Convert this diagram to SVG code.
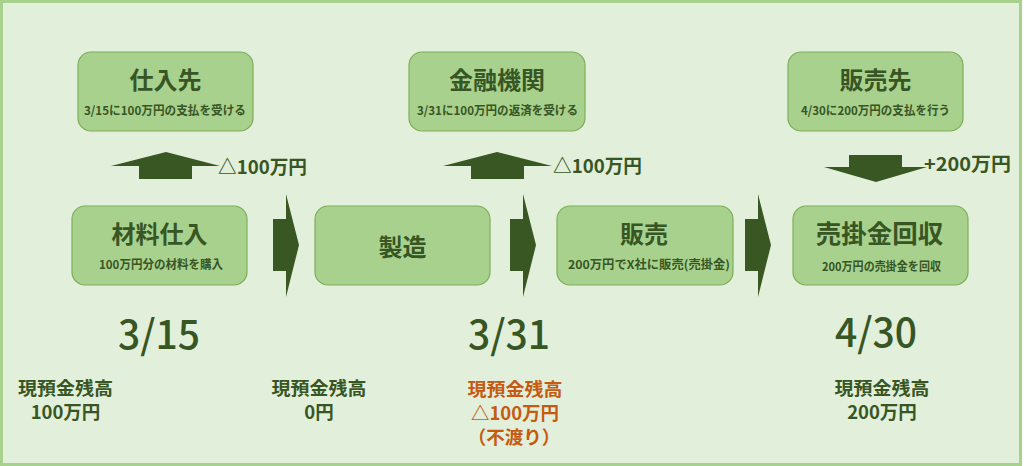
<svg xmlns="http://www.w3.org/2000/svg" width="1024" height="466" viewBox="0 0 1024 466">
<defs>
<style>
.t{font-family:"Noto Sans CJK JP","Noto Sans",sans-serif;font-weight:bold;fill:#375623;text-anchor:middle}
.s{text-anchor:start}
.box{fill:#a9d18e;stroke:#7dae59;stroke-width:1.2}
.title{font-size:24px}
.sub{font-size:12px}
.lab{font-size:19px}
.date{font-size:40px;font-weight:500}
.bal{font-size:18.5px}
.warn{fill:#c55a11}
.arrow{fill:#385723}
</style>
</defs>
<rect x="0" y="0" width="1024" height="466" fill="#ffffff"/>
<rect x="1.5" y="1.5" width="1019" height="463" fill="#e2efda" stroke="#a9d18e" stroke-width="3"/>

<g id="supplier">
<rect class="box" x="78" y="52" width="175" height="79" rx="13"/>
<text class="t title" x="165.5" y="89">仕入先</text>
<text class="t sub" x="165" y="115" textLength="162" lengthAdjust="spacingAndGlyphs">3/15に100万円の支払を受ける</text>
</g>
<g id="bank">
<rect class="box" x="409" y="52" width="176" height="79" rx="13"/>
<text class="t title" x="497" y="89">金融機関</text>
<text class="t sub" x="497.5" y="115" textLength="161" lengthAdjust="spacingAndGlyphs">3/31に100万円の返済を受ける</text>
</g>
<g id="customer">
<rect class="box" x="788" y="52" width="175" height="79" rx="13"/>
<text class="t title" x="875.5" y="89">販売先</text>
<text class="t sub" x="875.5" y="115" textLength="149" lengthAdjust="spacingAndGlyphs">4/30に200万円の支払を行う</text>
</g>

<g id="purchase">
<rect class="box" x="72" y="206" width="175" height="79" rx="13"/>
<text class="t title" x="159.5" y="243">材料仕入</text>
<text class="t sub" x="161" y="269" textLength="124" lengthAdjust="spacingAndGlyphs">100万円分の材料を購入</text>
</g>
<g id="manufacture">
<rect class="box" x="315" y="206" width="175" height="79" rx="13"/>
<text class="t title" x="402.5" y="256">製造</text>
</g>
<g id="sale">
<rect class="box" x="557" y="206" width="176" height="79" rx="13"/>
<text class="t title" x="644" y="243">販売</text>
<text class="t sub" x="649" y="269" textLength="162" lengthAdjust="spacingAndGlyphs">200万円でX社に販売(売掛金)</text>
</g>
<g id="collection">
<rect class="box" x="793" y="206" width="175" height="79" rx="13"/>
<text class="t title" x="879.5" y="243" style="font-size:25.5px">売掛金回収</text>
<text class="t sub" x="881.5" y="271" textLength="119" lengthAdjust="spacingAndGlyphs">200万円の売掛金を回収</text>
</g>

<g id="connectors">
<polygon class="arrow" points="111,166 166,152 220,166 192,166 192,179 139,179 139,166"/>
<polygon class="arrow" points="443,166 497,152 552,166 524,166 524,179 471,179 471,166"/>
<polygon class="arrow" points="849,155 902,155 902,167 927,167 876,182 824,167 849,167"/>
<polygon class="arrow" points="273,219 286,219 286,194 299,245 286,297 286,271 273,271"/>
<polygon class="arrow" points="510,219 523,219 523,194 536,245 523,297 523,271 510,271"/>
<polygon class="arrow" points="745,219 758,219 758,194 771,245 758,297 758,271 745,271"/>
<text class="t s lab" x="218" y="174" textLength="89" lengthAdjust="spacingAndGlyphs">△100万円</text>
<text class="t s lab" x="553" y="173" textLength="89" lengthAdjust="spacingAndGlyphs">△100万円</text>
<text class="t s lab" x="924" y="171" textLength="87" lengthAdjust="spacingAndGlyphs">+200万円</text>
</g>

<g id="dates">
<text class="t date" x="159" y="349" textLength="82" lengthAdjust="spacingAndGlyphs">3/15</text>
<text class="t date" x="509" y="349" textLength="82" lengthAdjust="spacingAndGlyphs">3/31</text>
<text class="t date" x="876" y="347" textLength="82" lengthAdjust="spacingAndGlyphs">4/30</text>
</g>

<g id="balances">
<text class="t bal" x="65.5" y="395" textLength="95" lengthAdjust="spacingAndGlyphs">現預金残高</text>
<text class="t bal" x="65.5" y="419">100万円</text>
<text class="t bal" x="319" y="395" textLength="95" lengthAdjust="spacingAndGlyphs">現預金残高</text>
<text class="t bal" x="319" y="419">0円</text>
<text class="t bal warn" x="515" y="396" textLength="95" lengthAdjust="spacingAndGlyphs">現預金残高</text>
<text class="t bal warn" x="515" y="420">△100万円</text>
<text class="t bal warn" x="514" y="444">（不渡り）</text>
<text class="t bal" x="882" y="395" textLength="95" lengthAdjust="spacingAndGlyphs">現預金残高</text>
<text class="t bal" x="882" y="419">200万円</text>
</g>
</svg>
